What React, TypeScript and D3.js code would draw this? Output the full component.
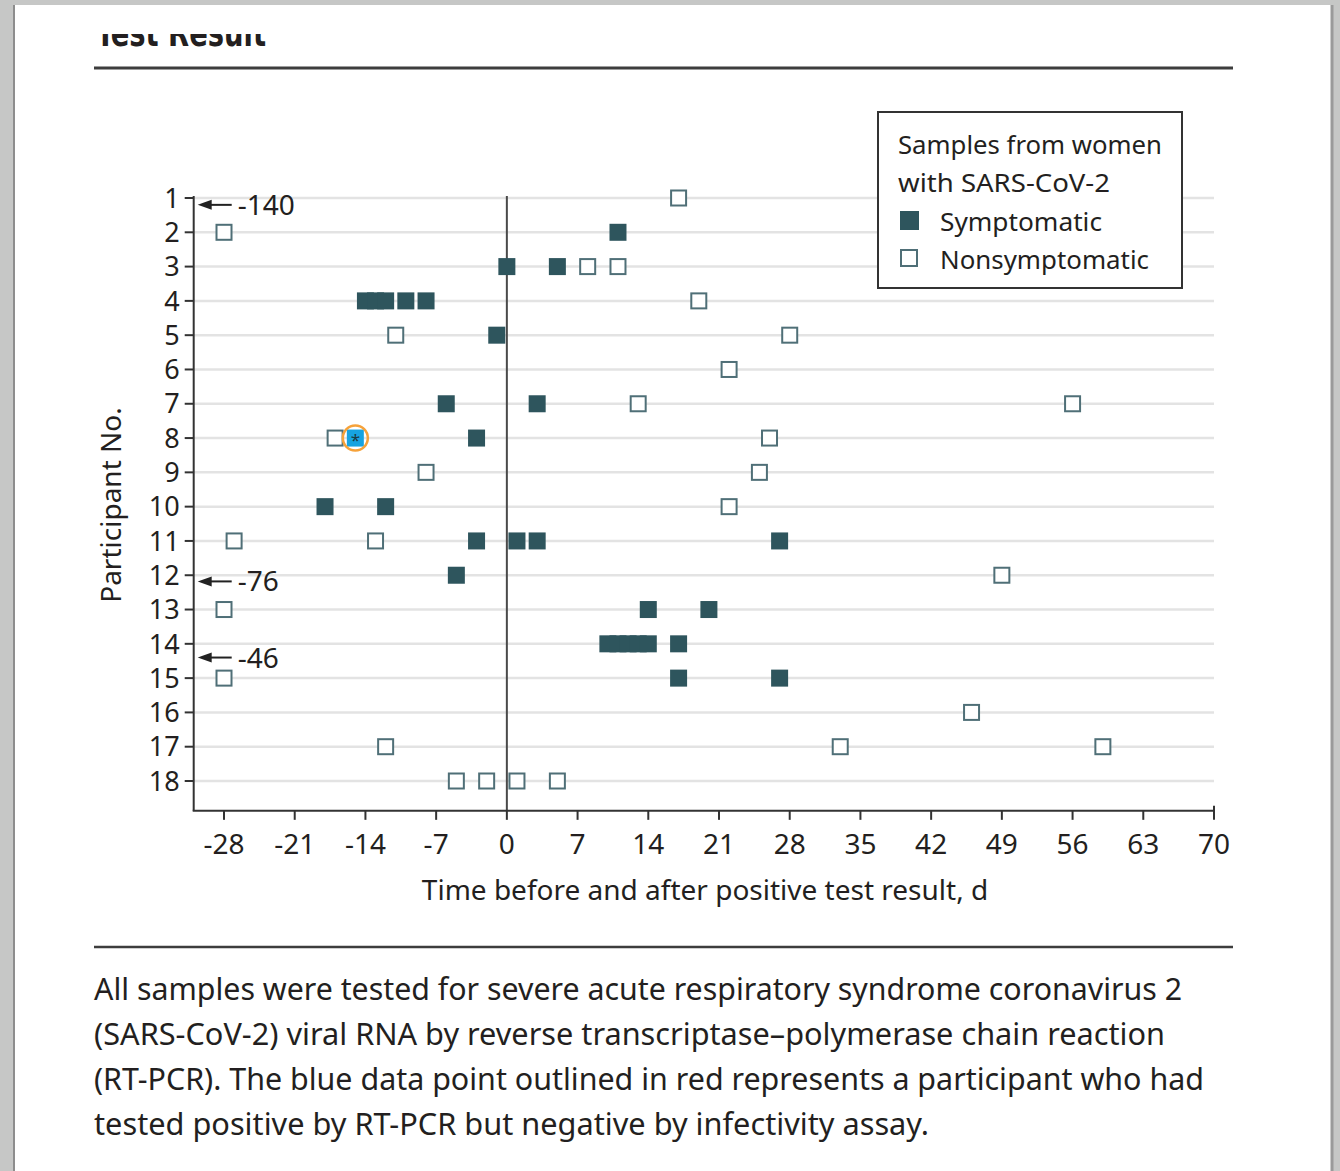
import React, { useEffect, useRef } from 'react';
import * as d3 from 'd3';

// participant rows and axis ticks
const participants = d3.range(1, 19);
const dayTicks = [-28, -21, -14, -7, 0, 7, 14, 21, 28, 35, 42, 49, 56, 63, 70];

// [participant, day relative to positive test]
const symptomatic: [number, number][] = [
  [2, 11], [3, 0], [3, 5], [4, -14], [4, -13], [4, -12], [4, -10], [4, -8],
  [5, -1], [7, -6], [7, 3], [8, -3], [10, -18], [10, -12], [11, -3], [11, 1],
  [11, 3], [11, 27], [12, -5], [13, 14], [13, 20], [14, 10], [14, 11], [14, 12],
  [14, 13], [14, 14], [14, 17], [15, 17], [15, 27],
];

const nonsymptomatic: [number, number][] = [
  [1, 17], [2, -28], [3, 8], [3, 11], [4, 19], [5, -11], [5, 28], [6, 22],
  [7, 13], [7, 56], [8, -17], [8, 26], [9, -8], [9, 25], [10, 22], [11, -27],
  [11, -13], [12, 49], [13, -28], [15, -28], [16, 46], [17, -12], [17, 33],
  [17, 59], [18, -5], [18, -2], [18, 1], [18, 5],
];

// positive by RT-PCR, negative by infectivity assay
const infectivityNegative: [number, number][] = [[8, -15]];

// samples taken before the left edge of the axis
const offScale: { row: number; label: string }[] = [
  { row: 1.2, label: '-140' },
  { row: 12.18, label: '-76' },
  { row: 14.4, label: '-46' },
];

const captionLines = [
  'All samples were tested for severe acute respiratory syndrome coronavirus 2',
  '(SARS-CoV-2) viral RNA by reverse transcriptase\u2013polymerase chain reaction',
  '(RT-PCR). The blue data point outlined in red represents a participant who had',
  'tested positive by RT-PCR but negative by infectivity assay.',
];
const captionWidths = [1088, 1071, 1110, 835];

const FONT = "'Noto Sans', 'Open Sans', sans-serif";
const INK = '#231f20';
const TEAL = '#2e555d';

const App: React.FC = () => {
  const svgRef = useRef<SVGSVGElement>(null);

  useEffect(() => {
    if (!svgRef.current) return;
    const svg = d3.select(svgRef.current);
    svg.selectAll('*').remove();

    // page
    svg.append('rect').attr('width', 1340).attr('height', 1171).attr('fill', '#c6c7c6');
    svg.append('rect').attr('x', 15).attr('y', 5).attr('width', 1316).attr('height', 1166).attr('fill', '#fff');
    svg.append('line').attr('x1', 14).attr('x2', 14).attr('y1', 5).attr('y2', 1171)
      .attr('stroke', '#8d8d8d').attr('stroke-width', 2);
    svg.append('line').attr('x1', 1332).attr('x2', 1332).attr('y1', 5).attr('y2', 1171)
      .attr('stroke', '#9a9a9a').attr('stroke-width', 3);

    // cut-off panel title
    svg.append('clipPath').attr('id', 'titleClip')
      .append('rect').attr('x', 0).attr('y', 34).attr('width', 1340).attr('height', 30);
    svg.append('text')
      .attr('clip-path', 'url(#titleClip)')
      .attr('x', 96).attr('y', 46)
      .attr('textLength', 170).attr('lengthAdjust', 'spacingAndGlyphs')
      .style('font-family', "'DejaVu Sans Condensed', 'Liberation Sans Narrow', sans-serif")
      .style('font-weight', 'bold').style('font-size', '38px').attr('fill', INK)
      .text('Test Result');

    svg.append('line').attr('x1', 94).attr('x2', 1233).attr('y1', 68).attr('y2', 68)
      .attr('stroke', '#3d3d3d').attr('stroke-width', 3);
    svg.append('line').attr('x1', 94).attr('x2', 1233).attr('y1', 947).attr('y2', 947)
      .attr('stroke', '#3d3d3d').attr('stroke-width', 2.5);

    const x = d3.scaleLinear().domain([-31, 70]).range([193.7, 1214]);
    const y = d3.scaleLinear().domain([1, 18]).range([198, 781]);
    const bottom = y(18.87);
    const top = y(1) - 2;
    const left = x(-31);
    const right = x(70);

    const g = svg.append('g');

    // row grid
    g.selectAll('.grid').data(participants).enter().append('line')
      .attr('x1', left).attr('x2', right)
      .attr('y1', d => y(d)).attr('y2', d => y(d))
      .attr('stroke', '#e3e3e3').attr('stroke-width', 2.5);

    // zero line
    g.append('line').attr('x1', x(0)).attr('x2', x(0)).attr('y1', top).attr('y2', bottom)
      .attr('stroke', '#4a4a4a').attr('stroke-width', 2);

    // y axis
    g.append('line').attr('x1', left).attr('x2', left).attr('y1', top).attr('y2', bottom)
      .attr('stroke', '#333').attr('stroke-width', 2);
    g.selectAll('.ytick').data(participants).enter().append('line')
      .attr('x1', left - 9).attr('x2', left)
      .attr('y1', d => y(d)).attr('y2', d => y(d))
      .attr('stroke', '#333').attr('stroke-width', 2);
    g.selectAll('.ylab').data(participants).enter().append('text')
      .attr('x', left - 14).attr('y', d => y(d)).attr('dy', '0.36em')
      .attr('text-anchor', 'end')
      .style('font-family', FONT).style('font-size', '27px').attr('fill', INK)
      .text(d => d);

    // x axis
    g.append('line').attr('x1', left - 1).attr('x2', right + 1).attr('y1', bottom).attr('y2', bottom)
      .attr('stroke', '#333').attr('stroke-width', 2);
    g.selectAll('.xtick').data(dayTicks).enter().append('line')
      .attr('x1', d => x(d)).attr('x2', d => x(d))
      .attr('y1', bottom).attr('y2', bottom + 9)
      .attr('stroke', '#333').attr('stroke-width', 2);
    g.append('line').attr('x1', right).attr('x2', right).attr('y1', bottom - 5).attr('y2', bottom)
      .attr('stroke', '#333').attr('stroke-width', 2);
    g.selectAll('.xlab').data(dayTicks).enter().append('text')
      .attr('x', d => x(d)).attr('y', bottom + 43)
      .attr('text-anchor', 'middle')
      .style('font-family', FONT).style('font-size', '28px').attr('fill', INK)
      .text(d => d);

    // axis titles
    g.append('text')
      .attr('x', 705).attr('y', 900).attr('text-anchor', 'middle')
      .style('font-family', FONT).style('font-size', '28px').attr('fill', INK)
      .text('Time before and after positive test result, d');
    g.append('text')
      .attr('transform', 'translate(121,505) rotate(-90)').attr('text-anchor', 'middle')
      .style('font-family', FONT).style('font-size', '28px').attr('fill', INK)
      .text('Participant No.');

    // off-scale arrows
    const arrows = g.selectAll('.arrow').data(offScale).enter().append('g');
    arrows.append('line')
      .attr('x1', left + 12).attr('x2', left + 38)
      .attr('y1', d => y(d.row)).attr('y2', d => y(d.row))
      .attr('stroke', '#222').attr('stroke-width', 2);
    arrows.append('path')
      .attr('d', d => `M${left + 4},${y(d.row)} L${left + 18},${y(d.row) - 5} L${left + 18},${y(d.row) + 5} Z`)
      .attr('fill', '#222');
    arrows.append('text')
      .attr('x', left + 44).attr('y', d => y(d.row)).attr('dy', '0.36em')
      .style('font-family', FONT).style('font-size', '28px').attr('fill', INK)
      .text(d => d.label);

    // markers
    const s = 17;
    g.selectAll('.open').data(nonsymptomatic).enter().append('rect')
      .attr('x', d => x(d[1]) - (s - 2) / 2).attr('y', d => y(d[0]) - (s - 2) / 2)
      .attr('width', s - 2).attr('height', s - 2)
      .attr('fill', '#fff').attr('stroke', '#4f6f77').attr('stroke-width', 2);
    g.selectAll('.filled').data(symptomatic).enter().append('rect')
      .attr('x', d => x(d[1]) - s / 2).attr('y', d => y(d[0]) - s / 2)
      .attr('width', s).attr('height', s)
      .attr('fill', TEAL);

    const special = g.selectAll('.special').data(infectivityNegative).enter().append('g');
    special.append('rect')
      .attr('x', d => x(d[1]) - s / 2).attr('y', d => y(d[0]) - s / 2)
      .attr('width', s).attr('height', s).attr('fill', '#17a3e0');
    special.append('text')
      .attr('x', d => x(d[1])).attr('y', d => y(d[0]) + 8)
      .attr('text-anchor', 'middle')
      .style('font-family', FONT).style('font-size', '17px').attr('fill', '#1b3b44')
      .text('*');
    special.append('circle')
      .attr('cx', d => x(d[1])).attr('cy', d => y(d[0])).attr('r', 12.5)
      .attr('fill', 'none').attr('stroke', '#f6a23a').attr('stroke-width', 2.5);

    // legend
    const lg = svg.append('g');
    lg.append('rect').attr('x', 878).attr('y', 112).attr('width', 304).attr('height', 176)
      .attr('fill', '#fff').attr('stroke', '#333').attr('stroke-width', 2);
    const legendText = (t: string, tx: number, ty: number) =>
      lg.append('text').attr('x', tx).attr('y', ty)
        .style('font-family', FONT).style('font-size', '26px').attr('fill', INK).text(t);
    legendText('Samples from women', 898, 154).attr('textLength', 264).attr('lengthAdjust', 'spacingAndGlyphs');
    legendText('with SARS-CoV-2', 898, 192).attr('textLength', 212).attr('lengthAdjust', 'spacingAndGlyphs');
    lg.append('rect').attr('x', 900).attr('y', 211).attr('width', 19).attr('height', 19).attr('fill', TEAL);
    legendText('Symptomatic', 940, 231).attr('textLength', 162).attr('lengthAdjust', 'spacingAndGlyphs');
    lg.append('rect').attr('x', 901).attr('y', 250).attr('width', 16).attr('height', 16)
      .attr('fill', '#fff').attr('stroke', '#4f6f77').attr('stroke-width', 2);
    legendText('Nonsymptomatic', 940, 269).attr('textLength', 209).attr('lengthAdjust', 'spacingAndGlyphs');

    // caption
    svg.selectAll('.caption').data(captionLines).enter().append('text')
      .attr('x', 94).attr('y', (_, i) => 1000 + i * 45)
      .attr('textLength', (_, i) => captionWidths[i]).attr('lengthAdjust', 'spacingAndGlyphs')
      .style('font-family', FONT).style('font-size', '31px').attr('fill', INK)
      .text(d => d);
  }, []);

  return (
    <svg ref={svgRef} width={1340} height={1171}
      style={{ position: 'absolute', left: 0, top: 0, display: 'block' }} />
  );
};

export default App;
